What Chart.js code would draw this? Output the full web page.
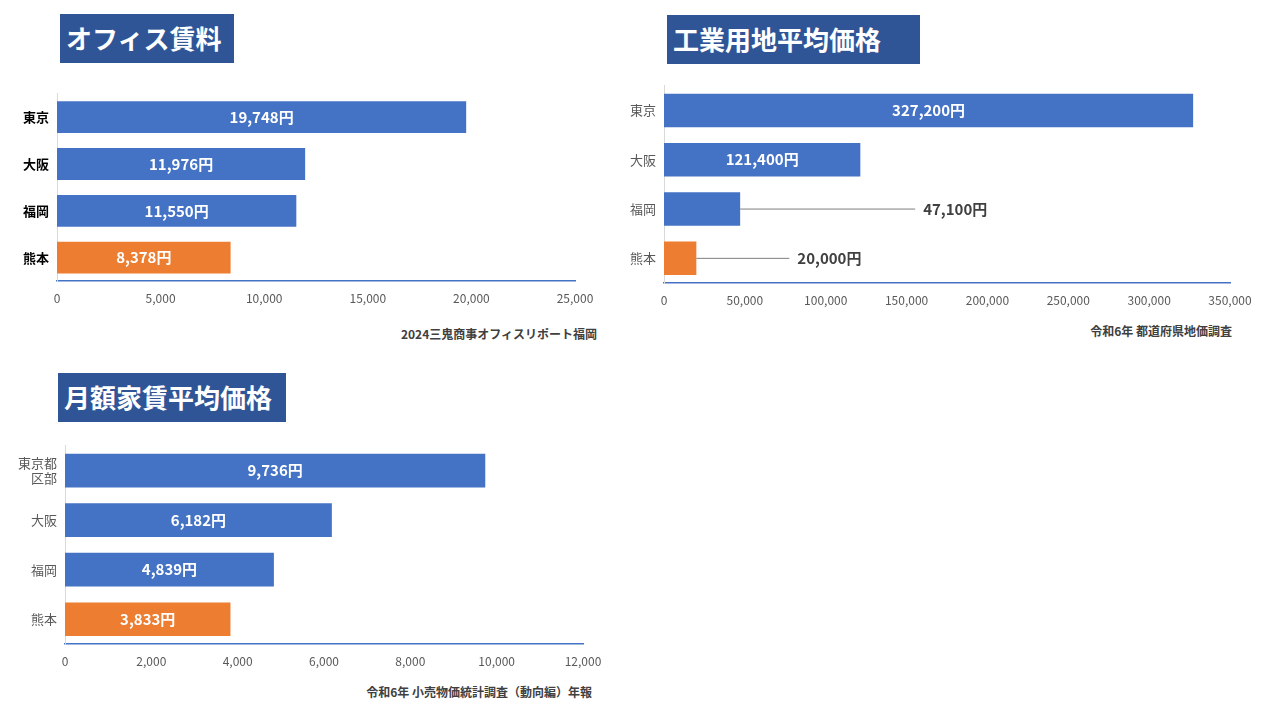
<!DOCTYPE html>
<html><head><meta charset="utf-8">
<script src="https://cdn.jsdelivr.net/npm/chart.js@4"></script>
<style>
body{margin:0;width:1280px;height:720px;background:#fff;position:relative;overflow:hidden;font-family:"Noto Sans CJK JP",sans-serif}
.t{position:absolute;background:#2F5597;color:#fff;font-weight:bold;font-size:26px;line-height:48px;padding:0 6px;box-sizing:border-box;height:49px}
.src{position:absolute;font-size:12px;font-weight:bold;color:#404040;white-space:nowrap}
canvas{position:absolute}
</style></head><body>
<div class="t" style="left:60px;top:14px;width:174px">オフィス賃料</div>
<div class="t" style="left:667px;top:15px;width:253px">工業用地平均価格</div>
<div class="t" style="left:58px;top:373px;width:228px">月額家賃平均価格</div>
<div class="src" style="right:683px;top:325px">2024三鬼商事オフィスリポート福岡</div>
<div class="src" style="right:48px;top:322px">令和6年 都道府県地価調査</div>
<div class="src" style="right:688px;top:683px">令和6年 小売物価統計調査（動向編）年報</div>
<div style="position:absolute;left:0;top:78px;width:620px;height:233px"><canvas id="c1"></canvas></div>
<div style="position:absolute;left:600px;top:70px;width:680px;height:243px"><canvas id="c2"></canvas></div>
<div style="position:absolute;left:0;top:430px;width:630px;height:244px"><canvas id="c3"></canvas></div>
<script>
const cats1=["東京","大阪","福岡","熊本"];
const vals1=[19748,11976,11550,8378];
const cats2=["東京","大阪","福岡","熊本"];
const vals2=[327200,121400,47100,20000];
const cats3=[["東京都","区部"],"大阪","福岡","熊本"];
const vals3=[9736,6182,4839,3833];
const BLUE="#4472C4",ORANGE="#ED7D31";
const fmt=v=>v.toLocaleString("en-US")+"円";
const FONT='"Noto Sans CJK JP",sans-serif';
const labelPlugin={id:"lbl",afterDatasetsDraw(ch){
  const ctx=ch.ctx,meta=ch.getDatasetMeta(0),outs=ch.options.plugins.lbl.outside||{};
  ctx.save();ctx.font="bold 15px "+FONT;ctx.textBaseline="middle";
  meta.data.forEach((b,i)=>{
    const v=ch.data.datasets[0].data[i];
    if(outs[i]!==undefined){
      const lx=b.x+outs[i];
      ctx.strokeStyle="#7f7f7f";ctx.lineWidth=1;ctx.beginPath();ctx.moveTo(b.x,b.y);ctx.lineTo(lx,b.y);ctx.stroke();
      ctx.fillStyle="#404040";ctx.textAlign="left";ctx.fillText(fmt(v),lx+8,b.y);
    }else{ctx.fillStyle="#fff";ctx.textAlign="center";ctx.fillText(fmt(v),(b.base+b.x)/2,b.y);}
  });ctx.restore();}};
function mk(id,cats,vals,max,step,yw,pad,bold,outside,tickFmt){
  new Chart(document.getElementById(id),{type:"bar",plugins:[labelPlugin],
  data:{labels:cats,datasets:[{data:vals,backgroundColor:vals.map((v,i)=>i===vals.length-1?ORANGE:BLUE),barPercentage:0.68,categoryPercentage:1}]},
  options:{indexAxis:"y",responsive:true,maintainAspectRatio:false,animation:false,layout:{padding:pad},
   plugins:{legend:{display:false},tooltip:{enabled:false},lbl:{outside}},
   scales:{
    x:{min:0,max:max,ticks:{stepSize:step,color:"#595959",font:{size:12,family:FONT},padding:10,callback:tickFmt,maxRotation:0},
       grid:{display:false,drawTicks:false},border:{color:"#4472C4",width:1.5},afterFit:s=>{s.height=30}},
    y:{ticks:{color:bold?"#000":"#595959",font:{size:13,family:FONT,weight:bold?"bold":"normal"},padding:8},
       grid:{display:false,drawTicks:false},border:{color:"#d9d9d9"},afterFit:s=>{s.width=yw}}}}});
}
const comma=v=>v.toLocaleString("en-US");
mk("c1",cats1,vals1,25000,5000,57,{top:2,right:45,bottom:0,left:0},true,{},comma);
mk("c2",cats2,vals2,350000,50000,64,{top:6,right:50,bottom:0,left:0},false,{2:175,3:93},comma);
mk("c3",cats3,vals3,12000,2000,65,{top:5,right:47,bottom:0,left:0},false,{},v=>v.toLocaleString("en-US"));
</script></body></html>
